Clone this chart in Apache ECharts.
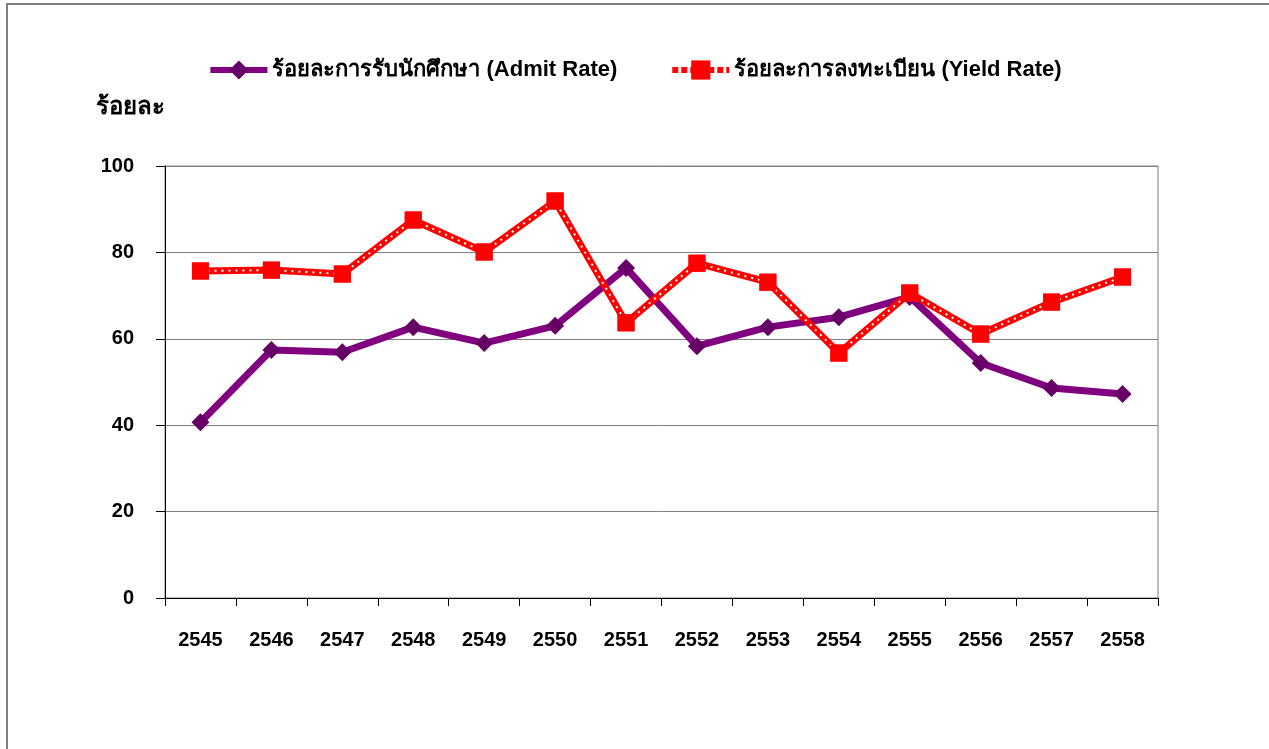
<!DOCTYPE html>
<html>
<head>
<meta charset="utf-8">
<title>Admit / Yield Rate</title>
<script src="https://cdn.jsdelivr.net/npm/echarts@6/dist/echarts.min.js"></script>
<style>
html, body { margin: 0; padding: 0; background: #fff; }
#chart1 { width: 1269px; height: 749px; }
</style>
</head>
<body>
<div id="chart1"></div>
<script>
var yearList = ['2545','2546','2547','2548','2549','2550','2551','2552','2553','2554','2555','2556','2557','2558'];
var admitRateList = [40.7,57.4,56.9,62.7,59.0,63.0,76.4,58.3,62.7,65.0,69.7,54.4,48.6,47.2];
var yieldRateList = [75.7,75.9,75.0,87.5,80.1,91.9,63.7,77.5,73.1,56.7,70.6,61.1,68.5,74.3];
var legenderList = ['ร้อยละการรับนักศึกษา (Admit Rate)', 'ร้อยละการลงทะเบียน (Yield Rate)'];

var fontName = '"Liberation Sans", Arial, "Noto Sans", "DejaVu Sans", sans-serif';

var chart = echarts.init(document.getElementById('chart1'));
chart.setOption({
	animation: false,
	backgroundColor: '#fff',
	textStyle: { fontFamily: fontName },
	graphic: [{
		type: 'rect',
		shape: { x: 7, y: 4, width: 1300, height: 800 },
		style: { fill: 'none', stroke: '#808080', lineWidth: 2 }
	}],
	title: {
		text: 'ร้อยละ',
		left: 91,
		top: 90,
		textStyle: { fontSize: 24, fontWeight: 'bold', color: '#000', fontFamily: fontName }
	},
	legend: {
		data: [{
			name: legenderList[0],
			lineStyle: { width: 6, color: '#800080' }
		}, {
			name: legenderList[1],
			lineStyle: { width: 6, color: '#ff0000', type: [6, 3] }
		}],
		top: 54,
		left: 'center',
		itemWidth: 57,
		itemHeight: 24,
		itemGap: 52,
		textStyle: { fontSize: 22, fontWeight: 'bold', color: '#000', fontFamily: fontName }
	},
	grid: {
		left: 165,
		right: 111,
		top: 166,
		bottom: 151,
		show: true,
		borderColor: '#808080',
		borderWidth: 1
	},
	xAxis: {
		type: 'category',
		data: yearList,
		boundaryGap: true,
		axisLine: { lineStyle: { color: '#000', width: 1 } },
		axisTick: { show: true, inside: false, length: 8, lineStyle: { color: '#000' } },
		axisLabel: { fontSize: 20, fontWeight: 'bold', color: '#000', margin: 32 }
	},
	yAxis: {
		type: 'value',
		min: 0,
		max: 100,
		interval: 20,
		axisLine: { show: true, lineStyle: { color: '#000', width: 1 } },
		axisTick: { show: true, length: 9, lineStyle: { color: '#000' } },
		axisLabel: { fontSize: 20, fontWeight: 'bold', color: '#000', margin: 31 },
		splitLine: { lineStyle: { color: '#808080', width: 1 } }
	},
	series: [{
		name: legenderList[0],
		type: 'line',
		data: admitRateList,
		symbol: 'diamond',
		symbolSize: 18,
		lineStyle: { color: '#800080', width: 7 },
		itemStyle: { color: '#660066' },
		z: 3
	}, {
		name: legenderList[1],
		type: 'line',
		data: yieldRateList,
		symbol: 'rect',
		symbolSize: 17,
		lineStyle: { color: '#ff0000', width: 7 },
		itemStyle: { color: '#ff0000' },
		z: 4
	}, {
		// white dotted core on top of the red line
		name: 'yield-dots',
		type: 'line',
		data: yieldRateList,
		symbol: 'none',
		silent: true,
		lineStyle: { color: '#ffffff', width: 2, type: [2, 5] },
		z: 5
	}, {
		name: 'yield-marks',
		type: 'line',
		data: yieldRateList,
		symbol: 'rect',
		symbolSize: 17,
		silent: true,
		lineStyle: { width: 0, opacity: 0 },
		itemStyle: { color: '#ff0000' },
		z: 6
	}]
});
</script>
</body>
</html>
